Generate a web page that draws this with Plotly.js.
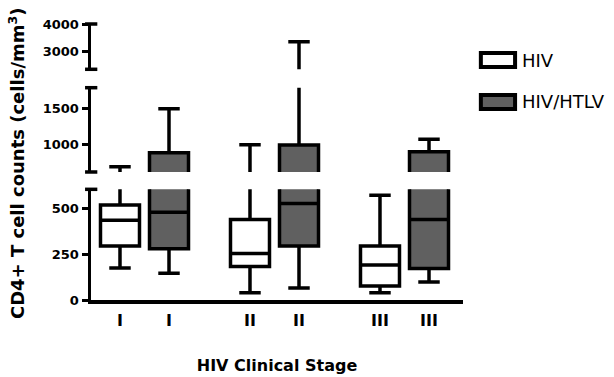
<!DOCTYPE html>
<html>
<head>
<meta charset="utf-8">
<script src="https://cdn.plot.ly/plotly-3.0.1.min.js"></script>
<style>html,body{margin:0;padding:0;background:#fff;}#chart{width:614px;height:377px;}</style>
</head>
<body>
<div id="chart"></div>
<script>
// ---- data ----
const stages = ['I', 'II', 'III'];
const seriesNames = ['HIV', 'HIV/HTLV'];
const hivLower  = [175, 40, 40];
const hivQ1     = [295, 183, 77];
const hivMedian = [436, 255, 191];
const hivQ3     = [520, 441, 295];
const hivUpper  = [679, 990, 573];
const htlvLower  = [146, 66, 98];
const htlvQ1     = [281, 295, 172];
const htlvMedian = [481, 529, 441];
const htlvQ3     = [877, 986, 891];
const htlvUpper  = [1500, 3361, 1066];
const yTicksLow = [0, 250, 500];
const yTicksMid = [1000, 1500];
const yTicksTop = [3000, 4000];

// ---- styling / layout ----
const fills = ['#ffffff', '#606060'];
const offset = 0.377;          // distance between the two boxes of a stage
const boxW = 0.3;
const seriesStats = [
  {lo: hivLower, q1: hivQ1, med: hivMedian, q3: hivQ3, hi: hivUpper},
  {lo: htlvLower, q1: htlvQ1, med: htlvMedian, q3: htlvQ3, hi: htlvUpper}
];
function positions(s) { return stages.map((_, i) => i + (s - 0.5) * offset); }

const yAxesIds = ['y', 'y2', 'y3'];
const traces = [];
yAxesIds.forEach(ya => {
  seriesStats.forEach((st, s) => {
    traces.push({
      type: 'box', name: seriesNames[s], showlegend: false,
      x: positions(s), q1: st.q1, median: st.med, q3: st.q3,
      lowerfence: st.lo, upperfence: st.hi,
      boxpoints: false, width: boxW, whiskerwidth: 0.55,
      fillcolor: fills[s], line: {color: '#000', width: 3.5},
      xaxis: 'x', yaxis: ya, hoverinfo: 'skip'
    });
  });
});

const tickFont = {family: 'DejaVu Sans', size: 13, color: '#000', weight: 'bold'};
function yax(domain, range, tv) {
  return {
    domain: domain, range: range, anchor: 'x', showline: true, linewidth: 3.5, linecolor: '#000',
    ticks: 'outside', ticklen: 6, tickwidth: 3, tickcolor: '#000',
    tickvals: tv, ticktext: tv.map(String), tickfont: tickFont,
    showgrid: false, zeroline: false, fixedrange: true
  };
}
const tickPos = [];
const tickTxt = [];
stages.forEach((st, i) => { seriesNames.forEach((_, s) => { tickPos.push(i + (s - 0.5) * offset); tickTxt.push(st); }); });

const capShapes = [];
[['y domain', 1], ['y2 domain', 0], ['y2 domain', 1], ['y3 domain', 0], ['y3 domain', 1]].forEach(c => {
  capShapes.push({type: 'line', xref: 'paper', yref: c[0], x0: -0.016, x1: 0.017, y0: c[1], y1: c[1],
    line: {color: '#000', width: 3.5}});
});
// legend drawn by hand (wide rectangles)
const legendY = [[0.844, 0.895], [0.692, 0.743]];
const legendShapes = seriesNames.map((n, s) => ({
  type: 'rect', xref: 'paper', yref: 'paper', x0: 1.048, x1: 1.140, y0: legendY[s][0], y1: legendY[s][1],
  fillcolor: fills[s], line: {color: '#000', width: 4}
}));
const legendText = seriesNames.map((n, s) => ({
  xref: 'paper', yref: 'paper', x: 1.152, y: (legendY[s][0] + legendY[s][1]) / 2,
  xanchor: 'left', yanchor: 'middle', showarrow: false, text: n,
  font: {family: 'DejaVu Sans', size: 18, color: '#000'}
}));

const layout = {
  width: 614, height: 377,
  margin: {l: 91, r: 151, t: 24, b: 77},
  paper_bgcolor: '#fff', plot_bgcolor: 'rgba(0,0,0,0)',
  showlegend: false, boxmode: 'overlay',
  xaxis: {
    range: [-0.4115, 2.45], showline: true, linewidth: 3.5, linecolor: '#000',
    ticks: '', tickvals: tickPos, ticktext: tickTxt, ticklabelstandoff: 3,
    tickfont: {family: 'DejaVu Sans', size: 16, color: '#000', weight: 'bold'},
    showgrid: false, zeroline: false, fixedrange: true, automargin: false,
    title: {text: 'HIV Clinical Stage', standoff: 32,
      font: {family: 'DejaVu Sans', size: 16, color: '#000', weight: 'bold'}}
  },
  yaxis: yax([0, 0.401], [0, 606], yTicksLow),
  yaxis2: yax([0.4638, 0.7692], [604, 1797], yTicksMid),
  yaxis3: yax([0.8359, 1], [2365, 4000], yTicksTop),
  shapes: capShapes.concat(legendShapes),
  annotations: [{
    xref: 'paper', yref: 'paper', x: -0.199, y: 0.496, textangle: -90, showarrow: false,
    xanchor: 'center', yanchor: 'middle',
    text: 'CD4+ T cell counts (cells/mm<sup>3</sup>)',
    font: {family: 'DejaVu Sans', size: 18, color: '#000', weight: 'bold'}
  }].concat(legendText)
};
Plotly.newPlot('chart', traces, layout, {staticPlot: true, displayModeBar: false});
</script>
</body>
</html>
